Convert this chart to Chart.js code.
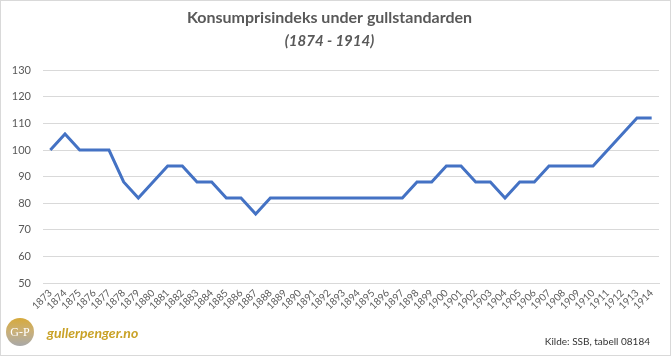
<!DOCTYPE html>
<html><head><meta charset="utf-8">
<script src="https://cdn.jsdelivr.net/npm/chart.js@4"></script>
<style>html,body{margin:0;padding:0;background:#fff}#wrap{width:671px;height:356px;position:relative}</style>
</head><body><div id="wrap"><canvas id="c" width="671" height="356"></canvas></div>
<script>
const years = ["1873","1874","1875","1876","1877","1878","1879","1880","1881","1882","1883","1884","1885","1886","1887","1888","1889","1890","1891","1892","1893","1894","1895","1896","1897","1898","1899","1900","1901","1902","1903","1904","1905","1906","1907","1908","1909","1910","1911","1912","1913","1914"];
const kpi = [100,106,100,100,100,88,82,88,94,94,88,88,82,82,76,82,82,82,82,82,82,82,82,82,82,88,88,94,94,88,88,82,88,88,94,94,94,94,100,106,112,112];
const titleText = "Konsumprisindeks under gullstandarden";
const subtitleText = "(1874 - 1914)";
const sourceText = "Kilde: SSB, tabell 08184";
const logoText = "gullerpenger.no";

const FONT = "Lato, 'Open Sans', sans-serif";
const decor = {
  id: 'decor',
  afterDraw(chart) {
    const ctx = chart.ctx;
    ctx.save();
    ctx.strokeStyle = '#d9d9d9'; ctx.lineWidth = 1;
    ctx.strokeRect(0.5, 0.5, 670, 355);
    const cx = 20, cy = 332, r = 14;
    const g = ctx.createLinearGradient(cx, cy - r, cx, cy + r);
    g.addColorStop(0, '#d6a93a'); g.addColorStop(0.5, '#c9b07a'); g.addColorStop(1, '#a8a8a8');
    ctx.fillStyle = g; ctx.beginPath(); ctx.arc(cx, cy, r, 0, Math.PI * 2); ctx.fill();
    ctx.fillStyle = '#ffffff'; ctx.font = "12px 'Liberation Serif', serif";
    ctx.textAlign = 'center'; ctx.textBaseline = 'middle';
    ctx.fillText('G-P', cx, cy + 1);
    ctx.fillStyle = '#c9a227'; ctx.font = "italic bold 14px " + FONT;
    ctx.textAlign = 'left';
    ctx.fillText(logoText, 47, 333);
    ctx.fillStyle = '#333333'; ctx.font = "10px " + FONT;
    ctx.textAlign = 'right';
    ctx.fillText(sourceText, 650, 342);
    ctx.restore();
  }
};

new Chart(document.getElementById('c'), {
  type: 'line',
  data: { labels: years, datasets: [{ data: kpi, borderColor: '#4472C4', borderWidth: 3, pointRadius: 0, fill: false, tension: 0 }] },
  options: {
    responsive: false, animation: false,
    layout: { padding: { left: 0, right: 12, top: 6, bottom: 40 } },
    plugins: {
      legend: { display: false }, tooltip: { enabled: false },
      title: { display: true, text: titleText, color: '#595959', font: { family: FONT, size: 16, weight: 'bold' }, padding: { top: 2, bottom: 5 } },
      subtitle: { display: true, text: subtitleText, color: '#595959', font: { family: FONT, size: 15, style: 'italic', weight: 'bold' }, padding: { bottom: 20 } }
    },
    scales: {
      x: { offset: true, grid: { display: false, drawTicks: false }, border: { color: '#d9d9d9' },
           afterFit(s) { s.paddingLeft = 0; s.paddingRight = 0; },
           ticks: { color: '#595959', font: { family: FONT, size: 10 }, minRotation: 45, maxRotation: 45, autoSkip: false, padding: 4 } },
      y: { min: 50, max: 130, grid: { color: '#d9d9d9', drawTicks: false }, border: { display: false },
           afterFit(s) { s.width = 43; },
           ticks: { stepSize: 10, color: '#595959', font: { family: FONT, size: 11 }, padding: 12 } }
    }
  },
  plugins: [decor]
});
</script></body></html>
